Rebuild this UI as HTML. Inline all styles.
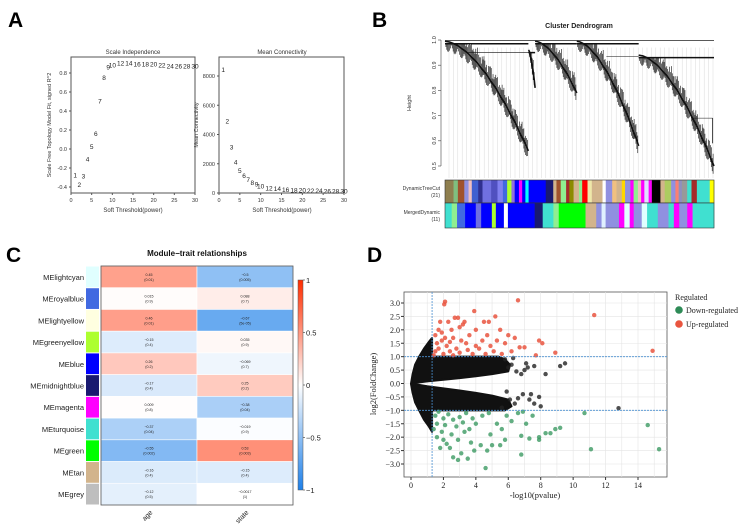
<!DOCTYPE html>
<html><head><meta charset="utf-8"><style>
html,body{margin:0;padding:0;background:#fff;}
svg{display:block;font-family:"Liberation Sans",sans-serif;}
</style></head><body>
<svg id="fig" width="749" height="530" viewBox="0 0 749 530">
<text x="8" y="27" font-size="21" font-weight="bold">A</text>
<text x="372" y="27" font-size="21" font-weight="bold">B</text>
<text x="6" y="262" font-size="21" font-weight="bold">C</text>
<text x="367" y="262" font-size="21" font-weight="bold">D</text>
<g id="pa"></g><g id="pb"></g><g id="pc"></g><g id="pd"></g>
</svg>
<script>
// ---------- Panel A data ----------
const powers=[1,2,3,4,5,6,7,8,9,10,12,14,16,18,20,22,24,26,28,30];
const r2Values=[-0.28,-0.38,-0.29,-0.11,0.02,0.16,0.5,0.75,0.86,0.88,0.9,0.9,0.89,0.89,0.89,0.88,0.87,0.87,0.87,0.87];
const meanConn=[8400,4900,3100,2100,1500,1150,880,700,580,430,320,260,210,180,160,140,120,110,100,90];
const r2Ticks=[-0.4,-0.2,0.0,0.2,0.4,0.6,0.8];
const kTicks=[0,2000,4000,6000,8000];
const pTicks=[0,5,10,15,20,25,30];
// ---------- Panel C data ----------
const modules=["MElightcyan","MEroyalblue","MElightyellow","MEgreenyellow","MEblue","MEmidnightblue","MEmagenta","MEturquoise","MEgreen","MEtan","MEgrey"];
const moduleColors=["#e0ffff","#4169e1","#ffffe0","#adff2f","#0000ff","#191970","#ff00ff","#40e0d0","#00ff00","#d2b48c","#bebebe"];
const traits=["age","state"];
const ageCor=[0.45,0.015,0.46,-0.15,0.26,-0.17,0.009,-0.37,-0.55,-0.16,-0.12];
const agePval=["0.01","0.9","0.01","0.4","0.2","0.4","0.8","0.04","0.002","0.4","0.5"];
const stateCor=[-0.5,0.088,-0.67,0.035,-0.069,0.25,-0.38,-0.019,0.53,-0.15,-0.0017];
const statePval=["0.005","0.7","5e-05","0.9","0.7","0.2","0.04","0.9","0.003","0.4","1"];
const cbarTicks=[-1,-0.5,0,0.5,1];
// ---------- Panel D data ----------
const upX=[2.1,2.05,6.6,3.9,2.9,2.7,5.2,11.3,14.9,1.8,2.3,3.3,4.5,4.8,1.7,2.5,3.0,3.2,4.0,5.5,6.0,6.4,7.9,8.1,8.9,7.7,6.7,7.0,5.6,1.5,1.6,1.9,2.2,2.6,2.8,3.4,3.6,4.2,4.4,4.9,5.1,5.8,1.5,2.0,2.4,3.0,3.8,4.6,6.2,1.7,2.1,3.1,2.6,4.0,5.3,1.4,1.9,3.5,4.7,2.4];
const upY=[3.05,2.95,3.1,2.7,2.45,2.45,2.5,2.55,1.22,2.3,2.3,2.3,2.3,2.3,2.0,2.0,2.1,2.2,2.0,2.0,1.8,1.7,1.6,1.5,1.15,1.05,1.35,1.35,1.1,1.8,1.5,1.6,1.4,1.7,1.3,1.5,1.8,1.3,1.6,1.4,1.2,1.5,1.2,1.1,1.2,1.15,1.1,1.1,1.2,1.3,1.7,1.6,1.05,1.4,1.6,1.05,1.9,1.25,1.8,1.55];
const downX=[4.6,6.8,3.5,2.9,2.6,3.1,3.9,4.7,11.1,15.3,14.6,10.7,9.2,8.9,8.6,8.3,7.9,7.9,7.3,6.8,5.8,5.5,5.0,4.3,2.2,2.4,1.8,2.0,1.6,1.9,2.5,2.8,3.3,3.6,4.0,4.4,5.3,5.9,6.6,7.1,7.5,6.9,1.5,1.6,2.0,2.3,2.6,3.0,3.4,3.8,4.8,5.6,6.2,1.4,1.7,2.9,3.7,4.9,2.1,3.2];
const downY=[-3.15,-2.65,-2.8,-2.85,-2.75,-2.6,-2.5,-2.5,-2.45,-2.45,-1.55,-1.1,-1.65,-1.7,-1.85,-1.85,-2.0,-2.1,-2.05,-1.95,-2.1,-2.3,-2.3,-2.3,-2.25,-2.4,-2.4,-2.1,-2.0,-1.8,-1.9,-1.6,-1.8,-1.7,-1.5,-1.2,-1.5,-1.2,-1.1,-1.5,-1.2,-1.05,-1.2,-1.5,-1.3,-1.15,-1.35,-1.25,-1.1,-1.3,-1.1,-1.7,-1.4,-1.7,-1.05,-2.1,-2.2,-1.9,-1.55,-1.45];
const nsX=[12.8,9.5,9.2,8.3,7.6,7.2,6.8,6.5,7.1,6.3,7.3,7.9,8.0,7.6,6.9,7.4,6.4,6.1,5.8,6.0,5.6,5.9,6.2,6.6,7.0];
const nsY=[-0.92,0.75,0.65,0.35,0.65,0.6,0.35,0.45,0.75,0.95,-0.6,-0.5,-0.85,-0.75,-0.4,-0.4,-0.75,-0.6,0.9,0.6,-0.9,-0.3,0.7,-0.55,0.5];
const cloudUpX=[0,0.1,0.25,0.5,0.8,1.1,1.3,1.3,5.4,5.8,6.1,6.0,5.0,4.0,3.0,2.0,1.0,0.4];
const cloudUpY=[0.0,0.35,0.7,1.0,1.3,1.55,1.7,1.0,1.0,0.9,0.7,0.45,0.35,0.27,0.2,0.14,0.08,0.03];
const cloudDnX=[0,0.1,0.25,0.5,0.8,1.1,1.3,1.3,5.8,6.2,6.0,5.0,4.0,3.0,2.0,1.0,0.4];
const cloudDnY=[-0.02,-0.35,-0.7,-1.0,-1.35,-1.6,-1.8,-1.0,-1.0,-0.85,-0.6,-0.45,-0.35,-0.26,-0.18,-0.1,-0.04];
const dXTicks=[0,2,4,6,8,10,12,14];
const dYTicks=[-3.0,-2.5,-2.0,-1.5,-1.0,-0.5,0.0,0.5,1.0,1.5,2.0,2.5,3.0];
const pCut=1.3, fcCut=1.0;

const NS="http://www.w3.org/2000/svg";
function mk(parent,tag,attrs,text){const e=document.createElementNS(NS,tag);for(const k in attrs)e.setAttribute(k,attrs[k]);if(text!==undefined)e.textContent=text;parent.appendChild(e);return e;}

// ===== Panel A =====
(function(){
 const g=document.getElementById('pa');
 const T=57,B=193;
 const lx=v=>71+v*(195-71)/30, ly=v=>149-v*(149-73)/0.8;
 let e=mk(g,'rect',{x:71,y:T,width:124,height:B-T,fill:'none',stroke:'#555','stroke-width':1});
 
 e=mk(g,'text',{x:133,y:54,'font-size':6,'text-anchor':'middle',fill:'#333'},'Scale Independence');
 
 pTicks.forEach(t=>{mk(g,'line',{x1:lx(t),x2:lx(t),y1:B,y2:B+2,stroke:'#555'});const tt=mk(g,'text',{x:lx(t),y:B+9,'font-size':5.5,'text-anchor':'middle',fill:'#333'},t);});
 r2Ticks.forEach(t=>{mk(g,'line',{x1:69,x2:71,y1:ly(t),y2:ly(t),stroke:'#555'});const tt=mk(g,'text',{x:67,y:ly(t)+2,'font-size':5.5,'text-anchor':'end',fill:'#333'},t.toFixed(1));});
 e=mk(g,'text',{x:133,y:212,'font-size':6,'text-anchor':'middle',fill:'#333'},'Soft Threshold(power)');
 
 e=mk(g,'text',{x:0,y:0,'font-size':5.5,'text-anchor':'middle',fill:'#333',transform:'translate(51,125) rotate(-90)'},'Scale Free Topology Model Fit, signed R^2');
 
 powers.forEach((p,i)=>{const t=mk(g,'text',{x:lx(p),y:ly(r2Values[i])+2,'font-size':6.5,'text-anchor':'middle',fill:'#222'},p);});
 const rx=v=>219+v*(344-219)/30, ry=v=>193-v*(193-76)/8000;
 e=mk(g,'rect',{x:219,y:T,width:125,height:B-T,fill:'none',stroke:'#555','stroke-width':1});
 
 e=mk(g,'text',{x:282,y:54,'font-size':6,'text-anchor':'middle',fill:'#333'},'Mean Connectivity');
 
 pTicks.forEach(t=>{mk(g,'line',{x1:rx(t),x2:rx(t),y1:B,y2:B+2,stroke:'#555'});const tt=mk(g,'text',{x:rx(t),y:B+9,'font-size':5.5,'text-anchor':'middle',fill:'#333'},t);});
 kTicks.forEach(t=>{mk(g,'line',{x1:217,x2:219,y1:ry(t),y2:ry(t),stroke:'#555'});const tt=mk(g,'text',{x:215,y:ry(t)+2,'font-size':5.5,'text-anchor':'end',fill:'#333'},t);});
 e=mk(g,'text',{x:282,y:212,'font-size':6,'text-anchor':'middle',fill:'#333'},'Soft Threshold(power)');
 
 e=mk(g,'text',{x:0,y:0,'font-size':5.5,'text-anchor':'middle',fill:'#333',transform:'translate(198,125) rotate(-90)'},'Mean Connectivity');
 
 powers.forEach((p,i)=>{const t=mk(g,'text',{x:rx(p),y:ry(meanConn[i])+2,'font-size':6.5,'text-anchor':'middle',fill:'#222'},p);});
})();

// ===== Panel B =====
(function(){
 const g=document.getElementById('pb');
 const L=445,R=714, hy=v=>40+(1-v)*(166-40)/0.5;
 let e=mk(g,'text',{x:579,y:28,'font-size':7,'font-weight':'bold','text-anchor':'middle',fill:'#222'},'Cluster Dendrogram');
 
 [0.5,0.6,0.7,0.8,0.9,1.0].forEach(t=>{mk(g,'line',{x1:438,x2:441,y1:hy(t),y2:hy(t),stroke:'#444','stroke-width':0.6});const tt=mk(g,'text',{x:0,y:0,'font-size':5.5,'text-anchor':'middle',fill:'#333',transform:`translate(436,${hy(t)}) rotate(-90)`},t.toFixed(1));});
 mk(g,'line',{x1:441,x2:441,y1:hy(1),y2:hy(0.5),stroke:'#444','stroke-width':0.6});
 e=mk(g,'text',{x:0,y:0,'font-size':5.5,'text-anchor':'middle',fill:'#333',transform:'translate(411,103) rotate(-90)'},'Height');
 
 for(let x=L+4;x<R;x+=4.4){mk(g,'line',{x1:x,x2:x,y1:hy(0.97),y2:178,stroke:'#d0d0d0','stroke-width':0.4});}
 mk(g,'line',{x1:L,x2:R,y1:hy(0.998),y2:hy(0.998),stroke:'#222','stroke-width':0.8});
 const clusters=[[0,0.31,0.985,0.55],[0.31,0.335,0.95,0.8],[0.335,0.49,0.985,0.78],[0.49,0.72,0.985,0.57],[0.72,1.0,0.93,0.49]];
 const dg=mk(g,'g',{});
 clusters.forEach(c=>{const w=(c[1]-c[0])*(R-L);const n=Math.round(w*1.1);
  for(let i=0;i<n;i++){const t=i/n;const x=L+(c[0]+(c[1]-c[0])*t)*(R-L);
   const wig=0.03*Math.abs(Math.sin(i*2.7));
   const bot=c[2]-(c[2]-c[3])*Math.pow(t,1.7)-wig;
   const top=Math.min(c[2],bot+0.05+0.03*Math.abs(Math.cos(i*1.3)));
   mk(dg,'line',{x1:x,x2:x,y1:hy(top),y2:hy(bot),stroke:'#111','stroke-width':0.6});}
  const m=18;let pts=[];for(let k=0;k<=m;k++){const t=k/m;pts.push((L+(c[0]+(c[1]-c[0])*t)*(R-L))+','+hy(c[2]-(c[2]-c[3])*Math.pow(t,1.7)+0.01));}
  mk(dg,'polyline',{points:pts.join(' '),fill:'none',stroke:'#111','stroke-width':1.6});
  mk(dg,'line',{x1:L+c[0]*(R-L),x2:L+c[1]*(R-L),y1:hy(c[2]),y2:hy(c[2]),stroke:'#111','stroke-width':1.5});
 });
 mk(dg,'line',{x1:L+0.08*(R-L),x2:L+0.33*(R-L),y1:hy(0.95),y2:hy(0.95),stroke:'#111','stroke-width':0.6});
 mk(dg,'line',{x1:L+0.6*(R-L),x2:L+0.72*(R-L),y1:hy(0.935),y2:hy(0.935),stroke:'#111','stroke-width':0.6});
 mk(dg,'line',{x1:L+0.92*(R-L),x2:L+0.995*(R-L),y1:hy(0.69),y2:hy(0.69),stroke:'#111','stroke-width':0.6});
 mk(dg,'line',{x1:L+0.995*(R-L),x2:L+0.995*(R-L),y1:hy(0.69),y2:hy(0.59),stroke:'#111','stroke-width':0.8});
 const row1=[[8,'#8f7f4f'],[4,'#7fbf7f'],[6,'#a0522d'],[4,'#9090e0'],[3,'#f0c0c0'],[6,'#4060d0'],[4,'#303090'],[8,'#7070e0'],[6,'#5050c0'],[5,'#8080f0'],[4,'#4169e1'],[4,'#adff2f'],[3,'#9370db'],[4,'#0000ff'],[3,'#ff00ff'],[3,'#0000ff'],[3,'#00ffff'],[16,'#0000ff'],[7,'#191970'],[3,'#d2b48c'],[4,'#a0522d'],[5,'#90ee90'],[3,'#a52a2a'],[4,'#8b8b00'],[5,'#d2b48c'],[3,'#90ee90'],[5,'#ff0000'],[4,'#eee8aa'],[10,'#d2b48c'],[3,'#ffffff'],[6,'#9090e0'],[4,'#f0c080'],[5,'#d2b48c'],[3,'#ffd700'],[5,'#9090e0'],[3,'#ff00ff'],[4,'#90ee90'],[3,'#f0c0c0'],[3,'#ff00ff'],[4,'#e0e0ff'],[3,'#ff00ff'],[8,'#000000'],[4,'#d2b48c'],[6,'#adcc60'],[4,'#9090e0'],[3,'#fa8072'],[3,'#8f8fbf'],[5,'#999999'],[4,'#40e0d0'],[5,'#a52a2a'],[12,'#40e0d0'],[4,'#ffff00']];
 const row2=[[5,'#40e0d0'],[4,'#90ee90'],[6,'#4169e1'],[8,'#0000ff'],[4,'#7070e0'],[8,'#0000ff'],[3,'#adff2f'],[6,'#0000ff'],[3,'#ffffff'],[20,'#0000ff'],[6,'#191970'],[8,'#40e0d0'],[4,'#90ee90'],[20,'#00ff00'],[8,'#d2b48c'],[4,'#9090e0'],[3,'#e0f0ff'],[10,'#9090e0'],[4,'#ff00ff'],[4,'#e0ffff'],[3,'#ff00ff'],[6,'#9090e0'],[4,'#e0ffff'],[8,'#40e0d0'],[8,'#9090e0'],[4,'#40e0d0'],[4,'#ff00ff'],[6,'#9090e0'],[4,'#ff00ff'],[16,'#40e0d0']];
 function bar(row,y,h,name){const bg=mk(g,'g',{});
  const s=row.reduce((a,b)=>a+b[0],0);let x=L;row.forEach(r=>{const w=r[0]/s*(R-L);mk(bg,'rect',{x:x,y:y,width:w+0.3,height:h,fill:r[1]});x+=w;});
  mk(bg,'rect',{x:L,y:y,width:R-L,height:h,fill:'none',stroke:'#333','stroke-width':0.6});}
 bar(row1,180,23,'dynamic-tree-cut-colors');bar(row2,203,25,'merged-dynamic-colors');
 e=mk(g,'text',{x:440,y:190,'font-size':5,'text-anchor':'end',fill:'#333'},'DynamicTreeCut');
 e=mk(g,'text',{x:440,y:197,'font-size':5,'text-anchor':'end',fill:'#333'},'(21)');
 e=mk(g,'text',{x:440,y:214,'font-size':5,'text-anchor':'end',fill:'#333'},'MergedDynamic');
 e=mk(g,'text',{x:440,y:221,'font-size':5,'text-anchor':'end',fill:'#333'},'(11)');
})();

// ===== Panel C =====
(function(){
 const g=document.getElementById('pc');
 const L=101,R=293,T=266,B=505,rh=(B-T)/modules.length,cw=(R-L)/traits.length;
 function col(v){v=Math.max(-1,Math.min(1,v));let c;if(v>=0)c=[255,255-v*(255-45),255-v*255];else{const a=-v;c=[255-a*(255-30),255-a*(255-128),255-a*(255-233)];}return `rgb(${c.map(Math.round).join(',')})`;}
 let e=mk(g,'text',{x:197,y:256,'font-size':8,'font-weight':'bold','text-anchor':'middle',fill:'#111'},'Module−trait relationships');
 
 const cors=[ageCor,stateCor],pvs=[agePval,statePval];
 modules.forEach((m,i)=>{const y=T+i*rh;
  let s=mk(g,'rect',{x:86,y:y+0.5,width:13,height:rh-1,fill:moduleColors[i]});
  let t=mk(g,'text',{x:84,y:y+rh/2+3,'font-size':7.5,'text-anchor':'end',fill:'#222'},m);
  traits.forEach((tr,j)=>{const x=L+j*cw;
   const c=mk(g,'rect',{x:x,y:y,width:cw,height:rh,fill:col(cors[j][i]),stroke:'#fff','stroke-width':0.6});
   const a=mk(g,'text',{x:x+cw/2,y:y+rh/2-1,'font-size':3.6,'text-anchor':'middle',fill:'#222'},String(cors[j][i]).replace('-','−'));
   const b=mk(g,'text',{x:x+cw/2,y:y+rh/2+4,'font-size':3.6,'text-anchor':'middle',fill:'#222'},'('+pvs[j][i]+')');
  });});
 e=mk(g,'rect',{x:L,y:T,width:R-L,height:B-T,fill:'none',stroke:'#555','stroke-width':0.8});
 traits.forEach((tr,j)=>{const x=L+j*cw+cw/2;const t=mk(g,'text',{x:0,y:0,'font-size':7,'text-anchor':'end',fill:'#222',transform:`translate(${x+4},${B+8}) rotate(-45)`},tr);});
 const cT=280,cB=490,cy=v=>cB-(v+1)/2*(cB-cT);
 const defs=mk(g,'defs',{});const lg=mk(defs,'linearGradient',{id:'cbg',x1:0,y1:1,x2:0,y2:0});
 mk(lg,'stop',{offset:'0','stop-color':col(-1)});mk(lg,'stop',{offset:'0.5','stop-color':'#fff'});mk(lg,'stop',{offset:'1','stop-color':col(1)});
 e=mk(g,'rect',{x:298,y:cT,width:5,height:cB-cT,fill:'url(#cbg)',stroke:'#555','stroke-width':0.5});
 cbarTicks.forEach(t=>{mk(g,'line',{x1:303,x2:305,y1:cy(t),y2:cy(t),stroke:'#333','stroke-width':0.6});const tt=mk(g,'text',{x:306,y:cy(t)+3,'font-size':7.5,fill:'#222'},String(t).replace('-','−'));});
})();

// ===== Panel D =====
(function(){
 const g=document.getElementById('pd');g.setAttribute('font-family','"Liberation Serif",serif');
 const L=404,R=667,T=292,B=477;
 const sx=v=>411+v*(638-411)/14, sy=v=>383.5-v*(464-303)/6;
 let e=mk(g,'rect',{x:L,y:T,width:R-L,height:B-T,fill:'#fff',stroke:'#555','stroke-width':0.8});
 dXTicks.forEach(t=>{mk(g,'line',{x1:sx(t),x2:sx(t),y1:T,y2:B,stroke:'#e4e4e4','stroke-width':0.6});mk(g,'line',{x1:sx(t+1),x2:sx(t+1),y1:T,y2:B,stroke:'#e4e4e4','stroke-width':0.6});
  mk(g,'line',{x1:sx(t),x2:sx(t),y1:B,y2:B+3,stroke:'#333'});const tt=mk(g,'text',{x:sx(t),y:B+11,'font-size':8,'text-anchor':'middle',fill:'#222'},t);});
 dYTicks.forEach(t=>{mk(g,'line',{x1:L,x2:R,y1:sy(t),y2:sy(t),stroke:'#e4e4e4','stroke-width':0.6});
  mk(g,'line',{x1:L-3,x2:L,y1:sy(t),y2:sy(t),stroke:'#333'});const tt=mk(g,'text',{x:L-4,y:sy(t)+3,'font-size':8,'text-anchor':'end',fill:'#222'},t.toFixed(1).replace('-','−'));});
 const poly=(xs,ys)=>xs.map((x,i)=>sx(x)+','+sy(ys[i])).join(' ');
 e=mk(g,'polygon',{points:poly(cloudUpX,cloudUpY),fill:'#111',stroke:'#111','stroke-width':2,'stroke-linejoin':'round'});
 e=mk(g,'polygon',{points:poly(cloudDnX,cloudDnY),fill:'#111',stroke:'#111','stroke-width':2,'stroke-linejoin':'round'});
 nsX.forEach((x,i)=>{const c=mk(g,'circle',{cx:sx(x),cy:sy(nsY[i]),r:2.2,fill:'#222','fill-opacity':0.8});});
 upX.forEach((x,i)=>{const c=mk(g,'circle',{cx:sx(x),cy:sy(upY[i]),r:2.2,fill:'#e9553f','fill-opacity':0.85});});
 downX.forEach((x,i)=>{const c=mk(g,'circle',{cx:sx(x),cy:sy(downY[i]),r:2.2,fill:'#3c9a63','fill-opacity':0.8});});
 e=mk(g,'line',{x1:sx(pCut),x2:sx(pCut),y1:T,y2:B,stroke:'#4a8fd0','stroke-width':0.8,'stroke-dasharray':'2,1'});
 [fcCut,-fcCut].forEach(v=>{const l=mk(g,'line',{x1:L,x2:R,y1:sy(v),y2:sy(v),stroke:'#4a8fd0','stroke-width':0.8,'stroke-dasharray':'2,1'});});
 e=mk(g,'text',{x:535,y:498,'font-size':8.5,'text-anchor':'middle',fill:'#222'},'-log10(pvalue)');
 e=mk(g,'text',{x:0,y:0,'font-size':8.5,'text-anchor':'middle',fill:'#222',transform:'translate(376,384) rotate(-90)'},'log2(FoldChange)');
 e=mk(g,'text',{x:675,y:300,'font-size':8,fill:'#222'},'Regulated');
 e=mk(g,'circle',{cx:679,cy:310,r:3.8,fill:'#2e8b57'});
 e=mk(g,'text',{x:686,y:313,'font-size':8,fill:'#222'},'Down-regulated');
 e=mk(g,'circle',{cx:679,cy:324,r:3.8,fill:'#e9553f'});
 e=mk(g,'text',{x:686,y:327,'font-size':8,fill:'#222'},'Up-regulated');
})();
</script>
</body></html>
